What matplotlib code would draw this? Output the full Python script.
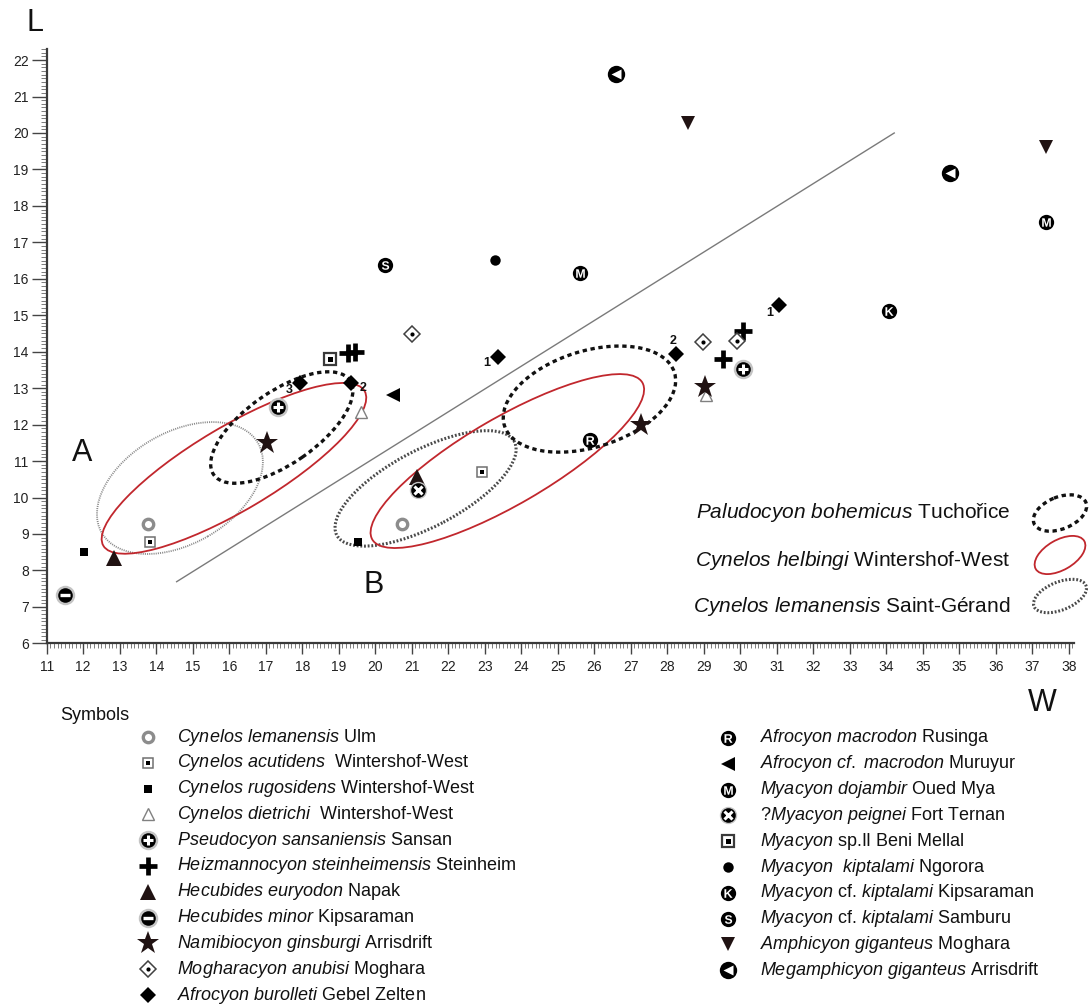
import matplotlib
matplotlib.use("Agg")
import matplotlib.pyplot as plt
from matplotlib.patches import Ellipse
from matplotlib.ticker import MultipleLocator
from matplotlib import font_manager

plt.rcParams['font.family'] = ['Liberation Sans', 'DejaVu Sans']
plt.rcParams['mathtext.fontset'] = 'custom'
plt.rcParams['mathtext.rm'] = 'Liberation Sans'
plt.rcParams['mathtext.it'] = 'Liberation Sans:italic'
plt.rcParams['mathtext.bf'] = 'Liberation Sans:bold'

_names = {f.name for f in font_manager.fontManager.ttflist}
NARROW = 'Liberation Sans Narrow' if 'Liberation Sans Narrow' in _names else 'Liberation Sans'

# ---------------------------------------------------------------- data
x_tick_values = list(range(11, 40))
x_tick_labels = [str(v) for v in range(11, 35)] + ['35', '35', '36', '37', '38']
y_tick_values = list(range(6, 23))

lemanensis_ulm_w = [13.78, 20.74]
lemanensis_ulm_l = [9.26, 9.27]
acutidens_w = [13.83, 22.92]
acutidens_l = [8.79, 10.71]
rugosidens_w = [12.02, 19.54]
rugosidens_l = [8.50, 8.78]
dietrichi_w = [19.60, 29.06]
dietrichi_l = [12.35, 12.81]
pseudocyon_w = [17.35, 30.07]
pseudocyon_l = [12.49, 13.52]
heizmannocyon_w = [19.26, 19.45, 29.54, 30.08]
heizmannocyon_l = [13.96, 14.00, 13.79, 14.58]
euryodon_w = [12.84, 21.15]
euryodon_l = [8.35, 10.57]
hminor_w = [11.50]
hminor_l = [7.33]
namibiocyon_w = [17.03, 27.27, 29.04]
namibiocyon_l = [11.49, 11.99, 13.04]
mogharacyon_w = [21.00, 28.97, 29.92]
mogharacyon_l = [14.49, 14.27, 14.29]
burolleti_w = [17.94, 19.33, 23.37, 28.24, 31.06]
burolleti_l = [13.13, 13.13, 13.85, 13.94, 15.28]
burolleti_labels = ['3', '2', '1', '2', '1']
macrodon_w = [25.88]
macrodon_l = [11.58]
cf_macrodon_w = [20.50]
cf_macrodon_l = [12.81]
dojambir_w = [25.61, 38.37]
dojambir_l = [16.17, 17.55]
peignei_w = [21.18]
peignei_l = [10.21]
myacyon_sp_w = [18.76]
myacyon_sp_l = [13.80]
kiptalami_w = [23.28]
kiptalami_l = [16.52]
cf_kipt_kipsaraman_w = [34.08]
cf_kipt_kipsaraman_l = [15.12]
cf_kipt_samburu_w = [20.27]
cf_kipt_samburu_l = [16.38]
amphicyon_w = [28.58, 38.38]
amphicyon_l = [20.27, 19.62]
megamphicyon_w = [26.60, 35.75]
megamphicyon_l = [21.61, 18.91]

# ellipses (groups A and B)
paludocyon_cw = [17.44, 25.87]
paludocyon_cl = [11.92, 12.70]
paludocyon_a = [2.27, 2.44]
paludocyon_b = [0.99, 1.32]
paludocyon_ang = [34.8, 17.4]
helbingi_cw = [16.13, 23.62]
helbingi_cl = [10.80, 11.00]
helbingi_a = [4.16, 4.28]
helbingi_b = [1.15, 1.19]
helbingi_ang = [30.7, 30.2]
lemanensis_sg_cw = [14.65, 21.38]
lemanensis_sg_cl = [10.26, 10.25]
lemanensis_sg_a = [2.47, 2.75]
lemanensis_sg_b = [1.53, 1.05]
lemanensis_sg_ang = [29.9, 27.8]

divider_w = [14.56, 34.22]
divider_l = [7.69, 20.00]

# ---------------------------------------------------------------- styles
HALO = '#c4c4c4'
DARK = '#201212'


def letter(ch):
    return [dict(marker='o', ms=11, mfc='black', mec='black', mew=0),
            dict(marker=r'$\mathbf{%s}$' % ch, ms=6.2, mfc='white', mec='white', mew=0)]


STYLES = {
    'ring': [dict(marker='o', ms=7.5, mfc='white', mec='#8c8c8c', mew=2.4)],
    'sqdot': [dict(marker='s', ms=7, mfc='white', mec='#707070', mew=1.1),
              dict(marker='s', ms=2.6, mfc='black', mec='black', mew=0)],
    'sqblack': [dict(marker='s', ms=6.2, mfc='black', mec='black', mew=0)],
    'triopen': [dict(marker='^', ms=9, mfc='white', mec='#808080', mew=1.0)],
    'circplus': [dict(marker='o', ms=14, mfc=HALO, mec='none'),
                 dict(marker='o', ms=10.5, mfc='black', mec='black', mew=0),
                 dict(marker='+', ms=7, mec='white', mew=2.2)],
    'plus': [dict(marker='+', ms=13, mec='black', mew=3.4)],
    'triup': [dict(marker='^', ms=11.5, mfc=DARK, mec=DARK, mew=0)],
    'circminus': [dict(marker='o', ms=14, mfc=HALO, mec='none'),
                  dict(marker='o', ms=10.5, mfc='black', mec='black', mew=0),
                  dict(marker='_', ms=7, mec='white', mew=2.4)],
    'star': [dict(marker='*', ms=17, mfc=DARK, mec=DARK, mew=0)],
    'diadot': [dict(marker='D', ms=8, mfc='white', mec='#404040', mew=1.1),
               dict(marker='o', ms=3, mfc='black', mec='none')],
    'diablack': [dict(marker='D', ms=8.5, mfc='black', mec='black', mew=0)],
    'circR': letter('R'),
    'triL': [dict(marker='<', ms=10, mfc='black', mec='black', mew=0)],
    'circM': letter('M'),
    'circX': [dict(marker='o', ms=12.5, mfc=HALO, mec='none'),
              dict(marker='o', ms=10.5, mfc='black', mec='black', mew=0),
              dict(marker='x', ms=5.5, mec='white', mew=2.2)],
    'sqbox': [dict(marker='s', ms=9, mfc='white', mec='#3a3a3a', mew=1.6),
              dict(marker='s', ms=3.6, mfc='black', mec='black', mew=0)],
    'dot': [dict(marker='o', ms=7.5, mfc='black', mec='black', mew=0)],
    'circK': letter('K'),
    'circS': letter('S'),
    'tridown': [dict(marker='v', ms=10.5, mfc=DARK, mec=DARK, mew=0)],
    'circtri': [dict(marker='o', ms=12.5, mfc='black', mec='black', mew=0),
                dict(marker='<', ms=6.5, mfc='white', mec='none')],
}

left_species = [
    ('ring', [('Cynelos lemanensis', True), (' Ulm', False)], lemanensis_ulm_w, lemanensis_ulm_l),
    ('sqdot', [('Cynelos acutidens', True), ('  Wintershof-West', False)], acutidens_w, acutidens_l),
    ('sqblack', [('Cynelos rugosidens', True), (' Wintershof-West', False)], rugosidens_w, rugosidens_l),
    ('triopen', [('Cynelos dietrichi', True), ('  Wintershof-West', False)], dietrichi_w, dietrichi_l),
    ('circplus', [('Pseudocyon sansaniensis', True), (' Sansan', False)], pseudocyon_w, pseudocyon_l),
    ('plus', [('Heizmannocyon steinheimensis', True), (' Steinheim', False)], heizmannocyon_w, heizmannocyon_l),
    ('triup', [('Hecubides euryodon', True), (' Napak', False)], euryodon_w, euryodon_l),
    ('circminus', [('Hecubides minor', True), (' Kipsaraman', False)], hminor_w, hminor_l),
    ('star', [('Namibiocyon ginsburgi', True), (' Arrisdrift', False)], namibiocyon_w, namibiocyon_l),
    ('diadot', [('Mogharacyon anubisi', True), (' Moghara', False)], mogharacyon_w, mogharacyon_l),
    ('diablack', [('Afrocyon burolleti', True), (' Gebel Zelten', False)], burolleti_w, burolleti_l),
]
right_species = [
    ('circR', [('Afrocyon macrodon', True), (' Rusinga', False)], macrodon_w, macrodon_l),
    ('triL', [('Afrocyon cf. macrodon', True), (' Muruyur', False)], cf_macrodon_w, cf_macrodon_l),
    ('circM', [('Myacyon dojambir', True), (' Oued Mya', False)], dojambir_w, dojambir_l),
    ('circX', [('?Myacyon peignei', True), (' Fort Ternan', False)], peignei_w, peignei_l),
    ('sqbox', [('Myacyon', True), (' sp.II Beni Mellal', False)], myacyon_sp_w, myacyon_sp_l),
    ('dot', [('Myacyon  kiptalami', True), (' Ngorora', False)], kiptalami_w, kiptalami_l),
    ('circK', [('Myacyon', True), (' cf. ', False), ('kiptalami', True), (' Kipsaraman', False)],
     cf_kipt_kipsaraman_w, cf_kipt_kipsaraman_l),
    ('circS', [('Myacyon', True), (' cf. ', False), ('kiptalami', True), (' Samburu', False)],
     cf_kipt_samburu_w, cf_kipt_samburu_l),
    ('tridown', [('Amphicyon giganteus', True), (' Moghara', False)], amphicyon_w, amphicyon_l),
    ('circtri', [('Megamphicyon giganteus', True), (' Arrisdrift', False)], megamphicyon_w, megamphicyon_l),
]


def mt(segments):
    out = ''
    for txt, it in segments:
        if it:
            out += r'$\mathit{' + txt.replace(' ', r'\ ') + '}$'
        else:
            out += txt
    return out


def draw(axis, xs, ys, key, z=5, clip=True):
    for layer in STYLES[key]:
        axis.plot(xs, ys, linestyle='none', zorder=z, clip_on=clip, **layer)


# ---------------------------------------------------------------- figure
W_PX, H_PX = 1091, 1008
fig = plt.figure(figsize=(W_PX / 100, H_PX / 100), dpi=100)

PX_X = 36.5   # pixels per unit W
PX_Y = 36.45  # pixels per unit L
ax_left, ax_bottom = 46.7, 643.3
x_max = 11 + (1074.5 - ax_left) / PX_X
y_max = 6 + (ax_bottom - 49) / PX_Y
ax = fig.add_axes([ax_left / W_PX, (H_PX - ax_bottom) / H_PX,
                   (1074.5 - ax_left) / W_PX, (ax_bottom - 49) / H_PX])
ax.set_xlim(11, x_max)
ax.set_ylim(6, y_max)
ax.set_zorder(2)
ax.patch.set_alpha(0)

for s in ['top', 'right']:
    ax.spines[s].set_visible(False)
for s in ['left', 'bottom']:
    ax.spines[s].set_linewidth(1.6)
    ax.spines[s].set_color('#3a3a3a')

ax.set_xticks(x_tick_values)
ax.set_xticklabels(x_tick_labels, fontsize=10, family=NARROW, color='#222222')
ax.set_yticks(y_tick_values)
ax.set_yticklabels([str(v) for v in y_tick_values], fontsize=10, color='#222222')
ax.xaxis.set_minor_locator(MultipleLocator(0.1))
ax.yaxis.set_minor_locator(MultipleLocator(0.1))
ax.tick_params(axis='x', which='major', direction='out', length=8, width=1.0, pad=4, color='#444444')
ax.tick_params(axis='x', which='minor', direction='out', length=3.5, width=0.6, color='#666666')
ax.tick_params(axis='y', which='major', direction='out', length=11, width=1.0, pad=2, color='#444444')
ax.tick_params(axis='y', which='minor', direction='out', length=4.5, width=0.6, color='#666666')

# divider line
ax.plot(divider_w, divider_l, color='#7a7a7a', lw=1.0, zorder=1)

# ellipses
for i in range(2):
    ax.add_patch(Ellipse((lemanensis_sg_cw[i], lemanensis_sg_cl[i]), 2 * lemanensis_sg_a[i],
                         2 * lemanensis_sg_b[i], angle=lemanensis_sg_ang[i], fill=False,
                         edgecolor='#8a8a8a' if i == 0 else '#4a4a4a', lw=1.3 if i == 0 else 2.2,
                         linestyle=(0, (0.6, 0.6)), zorder=2))
    ax.add_patch(Ellipse((helbingi_cw[i], helbingi_cl[i]), 2 * helbingi_a[i], 2 * helbingi_b[i],
                         angle=helbingi_ang[i], fill=False, edgecolor='#c1272d', lw=1.3, zorder=3))
    ax.add_patch(Ellipse((paludocyon_cw[i], paludocyon_cl[i]), 2 * paludocyon_a[i], 2 * paludocyon_b[i],
                         angle=paludocyon_ang[i], fill=False, edgecolor='#111111', lw=2.4,
                         linestyle=(0, (1.3, 1.1)), zorder=3))

# points
for key, seg, w, l in left_species + right_species:
    draw(ax, w, l, key)

label_offsets = [(-8, -5), (9, -3), (-8, -4.5), (-2, 9), (-6.5, -6)]
for w, l, t, off in zip(burolleti_w, burolleti_l, burolleti_labels, label_offsets):
    ax.annotate(t, (w, l), xytext=off, textcoords='offset points', ha='center', va='center',
                fontsize=9, fontweight='bold', color='#111111', zorder=6)

ax.text(11.97, 11.22, 'A', fontsize=22, ha='center', va='center', color='#111111')
ax.text(19.95, 7.60, 'B', fontsize=22, ha='center', va='center', color='#111111')

# ---------------------------------------------------------------- overlay (pixel coordinates)
lax = fig.add_axes([0, 0, 1, 1])
lax.set_xlim(0, W_PX)
lax.set_ylim(H_PX, 0)
lax.axis('off')
lax.set_zorder(3)

lax.text(35, 23, 'L', fontsize=22, ha='center', va='center', color='#111111')
lax.text(1042, 703, 'W', fontsize=22, ha='center', va='center', color='#111111')

# ellipse key
ell_labels = [mt([('Paludocyon bohemicus', True), (' Tuchořice', False)]),
              mt([('Cynelos helbingi', True), (' Wintershof-West', False)]),
              mt([('Cynelos lemanensis', True), (' Saint-Gérand', False)])]
ell_text_y = [513, 560, 607]
ell_icon_y = [513, 555, 596]
for t, y in zip(ell_labels, ell_text_y):
    lax.text(1010, y, t, fontsize=15, ha='right', va='center', color='#111111')
lax.add_patch(Ellipse((1060, ell_icon_y[0]), 56, 32, angle=-22, fill=False, edgecolor='#111111',
                      lw=2.4, linestyle=(0, (1.3, 1.1))))
lax.add_patch(Ellipse((1060, ell_icon_y[1]), 56, 30, angle=-30, fill=False, edgecolor='#c1272d', lw=1.3))
lax.add_patch(Ellipse((1060, ell_icon_y[2]), 56, 28, angle=-22, fill=False, edgecolor='#4a4a4a',
                      lw=2.2, linestyle=(0, (0.6, 0.6))))

# symbol key
lax.text(60, 716, 'Symbols', fontsize=13, ha='left', va='center', color='#111111')
for i, (key, seg, w, l) in enumerate(left_species):
    y = 737 + 25.8 * i
    draw(lax, [148], [y], key, clip=False)
    lax.text(177, y, mt(seg), fontsize=13, ha='left', va='center', color='#111111')
for i, (key, seg, w, l) in enumerate(right_species):
    y = 738 + 25.8 * i
    draw(lax, [728], [y], key, clip=False)
    lax.text(760, y, mt(seg), fontsize=13, ha='left', va='center', color='#111111')

fig.savefig('out.png', dpi=100)
